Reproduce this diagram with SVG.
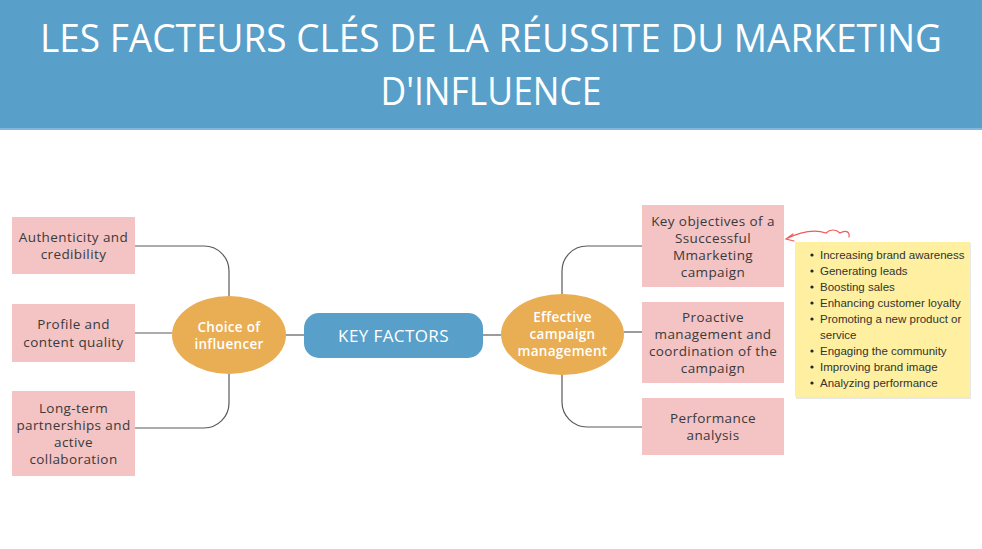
<svg xmlns="http://www.w3.org/2000/svg" width="982" height="549" viewBox="0 0 982 549">
<style>
.box{fill:#f4c3c3}
.bt{font-family:"Open Sans","Noto Sans",sans-serif;font-size:13.5px;letter-spacing:0.4px;fill:#3a3a3a;text-anchor:middle}
.ell{fill:#e9ad53}
.wt{font-family:"Open Sans","Noto Sans",sans-serif;font-size:13.5px;letter-spacing:0.3px;font-weight:600;fill:#ffffff;text-anchor:middle}
.con{fill:none;stroke:#5a5a5a;stroke-width:1.2}
.nt{font-family:"Liberation Sans",Arial,sans-serif;font-size:11.5px;fill:#333333}
</style>
<rect x="0" y="0" width="982" height="549" fill="#ffffff"/>
<g id="header">
<rect x="0" y="0" width="982" height="128" fill="#589fca"/>
<rect x="0" y="128" width="982" height="2" fill="#7fb7de"/>
<text x="491" y="52" font-family="Open Sans,Noto Sans,sans-serif" font-size="39" fill="#ffffff" text-anchor="middle" textLength="902" lengthAdjust="spacingAndGlyphs">LES FACTEURS CLÉS DE LA RÉUSSITE DU MARKETING</text>
<text x="491" y="105" font-family="Open Sans,Noto Sans,sans-serif" font-size="39" fill="#ffffff" text-anchor="middle" textLength="221" lengthAdjust="spacingAndGlyphs">D'INFLUENCE</text>
</g>
<g id="connectors">
<path class="con" d="M135,246 H204 A25,25 0 0 1 229,271 V296"/>
<path class="con" d="M135,333 H172"/>
<path class="con" d="M229,374 V403 A25,25 0 0 1 204,428 H135"/>
<path class="con" d="M286,335 H304"/>
<path class="con" d="M483,335 H501"/>
<path class="con" d="M562,294 V271 A25,25 0 0 1 587,246 H642"/>
<path class="con" d="M624,332 H642"/>
<path class="con" d="M562,375 V402 A25,25 0 0 0 587,427 H642"/>
<path fill="none" stroke="#f05a5a" stroke-width="1.2" stroke-linecap="round" d="M849,237 C850,231 845,230 840,233 C836,229 830,229 826,233 C814,229 800,232 786,239 M793,234 L786,239 L794,241"/>
</g>
<g id="key-factors">
<rect x="304" y="313" width="179" height="45" rx="15" fill="#589fca"/>
<text x="393.5" y="341.5" font-family="Open Sans,Noto Sans,sans-serif" font-size="17" font-weight="500" letter-spacing="0.4" fill="#ffffff" text-anchor="middle">KEY FACTORS</text>
</g>
<g id="choice">
<ellipse class="ell" cx="229" cy="335" rx="57" ry="39"/>
<text class="wt" x="229" y="331.5">Choice of</text>
<text class="wt" x="229" y="348.5">influencer</text>
</g>
<g id="effective">
<ellipse class="ell" cx="562.5" cy="334.5" rx="61.5" ry="40.5"/>
<text class="wt" x="562.5" y="322">Effective</text>
<text class="wt" x="562.5" y="339">campaign</text>
<text class="wt" x="562.5" y="356">management</text>
</g>
<g id="authenticity">
<rect class="box" x="12" y="217" width="123" height="57"/>
<text class="bt" x="73.5" y="242">Authenticity and</text>
<text class="bt" x="73.5" y="259">credibility</text>
</g>
<g id="profile">
<rect class="box" x="12" y="304" width="123" height="58"/>
<text class="bt" x="73.5" y="329">Profile and</text>
<text class="bt" x="73.5" y="346.5">content quality</text>
</g>
<g id="longterm">
<rect class="box" x="12" y="391" width="123" height="85"/>
<text class="bt" x="73.5" y="413">Long-term</text>
<text class="bt" x="73.5" y="430">partnerships and</text>
<text class="bt" x="73.5" y="447">active</text>
<text class="bt" x="73.5" y="464">collaboration</text>
</g>
<g id="objectives">
<rect class="box" x="642" y="205" width="142" height="82"/>
<text class="bt" x="713" y="226">Key objectives of a</text>
<text class="bt" x="713" y="243">Ssuccessful</text>
<text class="bt" x="713" y="260">Mmarketing</text>
<text class="bt" x="713" y="277">campaign</text>
</g>
<g id="proactive">
<rect class="box" x="642" y="302" width="142" height="81"/>
<text class="bt" x="713" y="322">Proactive</text>
<text class="bt" x="713" y="339">management and</text>
<text class="bt" x="713" y="356">coordination of the</text>
<text class="bt" x="713" y="373">campaign</text>
</g>
<g id="performance">
<rect class="box" x="642" y="398" width="142" height="57"/>
<text class="bt" x="713" y="423">Performance</text>
<text class="bt" x="713" y="440">analysis</text>
</g>
<g id="note">
<rect x="796" y="243" width="175" height="156" fill="#e8e8e8"/>
<rect x="795" y="242" width="175" height="155" fill="#fef0a0"/>
<g class="nt">
<circle cx="812" cy="255" r="1.6" fill="#222"/><text x="820" y="259">Increasing brand awareness</text>
<circle cx="812" cy="271" r="1.6" fill="#222"/><text x="820" y="275">Generating leads</text>
<circle cx="812" cy="287" r="1.6" fill="#222"/><text x="820" y="291">Boosting sales</text>
<circle cx="812" cy="303" r="1.6" fill="#222"/><text x="820" y="307">Enhancing customer loyalty</text>
<circle cx="812" cy="319" r="1.6" fill="#222"/><text x="820" y="323">Promoting a new product or</text>
<text x="820" y="339">service</text>
<circle cx="812" cy="351" r="1.6" fill="#222"/><text x="820" y="355">Engaging the community</text>
<circle cx="812" cy="367" r="1.6" fill="#222"/><text x="820" y="371">Improving brand image</text>
<circle cx="812" cy="383" r="1.6" fill="#222"/><text x="820" y="387">Analyzing performance</text>
</g>
</g>
</svg>
